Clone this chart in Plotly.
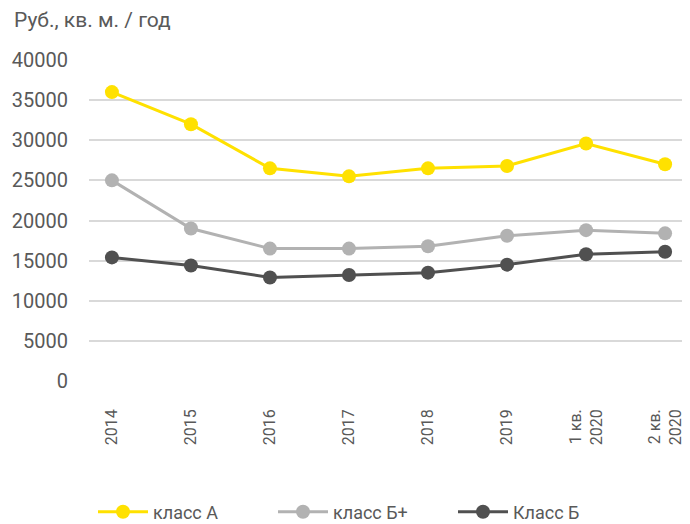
import plotly.graph_objects as go

categories = ["2014", "2015", "2016", "2017", "2018", "2019", "1 кв.<br>2020", "2 кв.<br>2020"]
class_a = [36000, 32000, 26500, 25500, 26500, 26800, 29600, 27000]
class_bplus = [25000, 19000, 16500, 16500, 16800, 18100, 18800, 18400]
class_b = [15400, 14400, 12900, 13200, 13500, 14500, 15800, 16100]
y_ticks = [0, 5000, 10000, 15000, 20000, 25000, 30000, 35000, 40000]

series = [
    ("класс А", class_a, "#FFE100"),
    ("класс Б+", class_bplus, "#B2B2B2"),
    ("Класс Б", class_b, "#505050"),
]

fig = go.Figure()
for name, vals, color in series:
    fig.add_trace(go.Scatter(
        x=list(range(len(categories))), y=vals, name=name, mode="lines+markers",
        line=dict(color=color, width=3),
        marker=dict(color=color, size=14),
    ))

# page body has an 8px margin, so the figure is sized 682x516
W, H = 682, 516
font_fam = "Roboto, 'Open Sans', sans-serif"
fig.update_layout(
    width=W, height=H,
    margin=dict(l=81, r=2, t=52, b=143, autoexpand=False),
    paper_bgcolor="white", plot_bgcolor="white",
    font=dict(family=font_fam, color="#595959", size=17),
    title=dict(text="Руб., кв. м. / год", x=6/W, xanchor="left", xref="container",
               y=1 - 12/H, yanchor="middle", yref="container",
               font=dict(size=21, color="#595959")),
    showlegend=True,
    legend=dict(orientation="h", x=85/W, xanchor="left", xref="container",
                y=12/H, yanchor="middle", yref="container",
                font=dict(size=18, color="#595959"),
                entrywidth=115, entrywidthmode="pixels", itemwidth=50),
)
fig.update_xaxes(
    tickmode="array", tickvals=list(range(len(categories))), ticktext=categories,
    range=[-0.29, 7.29], tickangle=-90, showgrid=False, zeroline=False,
    showline=False, ticks="", tickfont=dict(size=16, color="#595959"),
    ticklabelstandoff=24, automargin=False,
)
fig.update_yaxes(
    range=[0, 40000], tickvals=y_ticks, ticktext=[str(v) for v in y_ticks],
    showgrid=True, gridcolor="#D9D9D9", gridwidth=2, zeroline=False,
    showline=False, ticks="", tickfont=dict(size=20, color="#595959"),
    ticklabelstandoff=20, automargin=False,
)
fig.write_html("out.html")
